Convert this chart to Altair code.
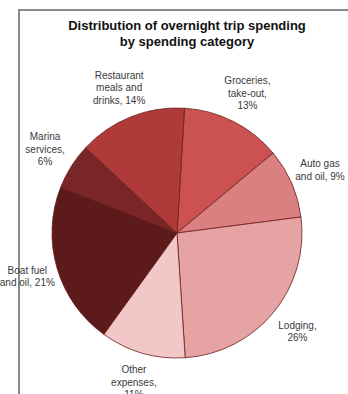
import altair as alt
import pandas as pd
import math

categories = ["Groceries, take-out", "Auto gas and oil", "Lodging", "Other expenses",
              "Boat fuel and oil", "Marina services", "Restaurant meals and drinks"]
shares = [13, 9, 26, 11, 21, 6, 14]
labels = ["Groceries,\ntake-out,\n13%", "Auto gas\nand oil, 9%", "Lodging,\n26%",
          "Other\nexpenses,\n11%", "Boat fuel\nand oil, 21%", "Marina\nservices,\n6%",
          "Restaurant\nmeals and\ndrinks, 14%"]
colors = ["#cc5252", "#db8080", "#e6a3a3", "#f1c7c7", "#5c1a1a", "#7b2626", "#b03a3a"]
title_lines = ["Distribution of overnight trip spending", "by spending category"]

df = pd.DataFrame({"category": categories, "share": shares, "label": labels,
                   "order": list(range(len(categories)))})

CX, CY = 177, 233
START = 0.06  # first slice angle (radians)
LH = 12.5

base = alt.Chart(df).transform_calculate(
    nlines="length(split(datum.label, '\\n'))"
).transform_calculate(
    lab3="datum.nlines == 3 ? datum.label : ''",
    lab2="datum.nlines == 2 ? datum.label : ''",
).encode(
    theta=alt.Theta("share:Q", stack=True,
                    scale=alt.Scale(range=[START, 2 * math.pi + START])),
    order=alt.Order("order:Q"),
    x=alt.value(CX),
    y=alt.value(CY),
)

pie = base.mark_arc(outerRadius=125, stroke="#6a1c1c", strokeWidth=0.8).encode(
    color=alt.Color("category:N", scale=alt.Scale(domain=categories, range=colors), legend=None)
)

txt_style = dict(radius=156, lineBreak="\n", font="Liberation Sans", fontSize=10,
                 color="#3a3a3a", align="center", baseline="middle", lineHeight=LH)
text3 = base.mark_text(dy=-LH, **txt_style).encode(text="lab3:N")
text2 = base.mark_text(dy=-LH / 2, **txt_style).encode(text="lab2:N")

frame_top = alt.Chart(df).mark_rule(color="#8a8a8a", strokeWidth=1.5).encode(
    x=alt.value(18), x2=alt.value(348), y=alt.value(10)
)
frame_left = alt.Chart(df).mark_rule(color="#8a8a8a", strokeWidth=1.5).encode(
    x=alt.value(19), y=alt.value(10), y2=alt.value(394)
)

chart = alt.layer(frame_top, frame_left, pie, text3, text2).properties(
    width=348, height=394, padding=0, autosize=alt.AutoSizeParams(type="none"),
    title=alt.TitleParams(text=title_lines, fontSize=13, fontWeight="bold",
                          font="Liberation Sans", color="#111111", anchor="middle",
                          dx=13, offset=-49, lineHeight=16.5, baseline="top"),
).configure_view(stroke=None)

chart.save("out.html", embed_options={"renderer": "svg", "actions": False})
